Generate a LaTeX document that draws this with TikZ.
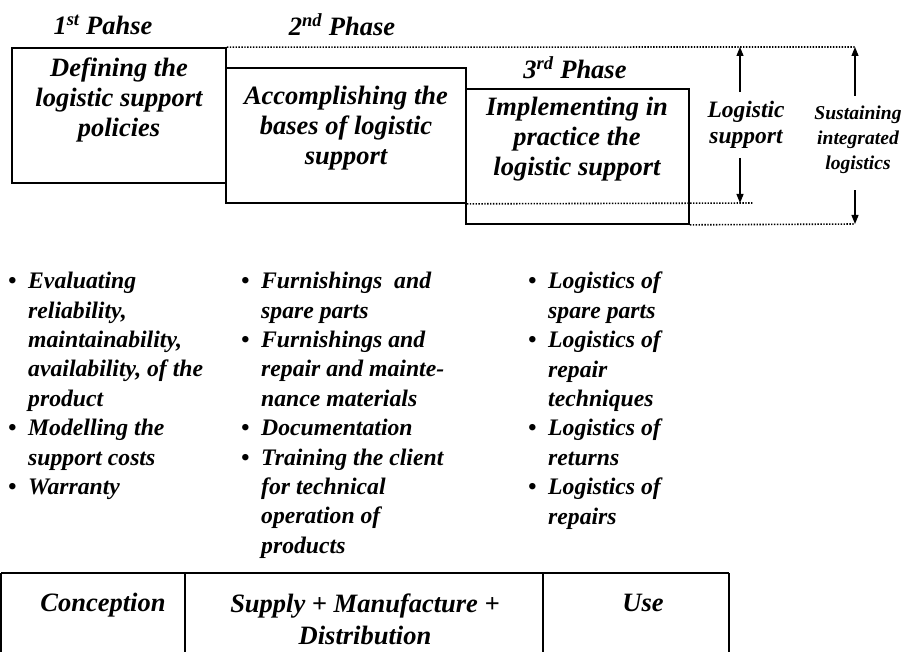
\documentclass[tikz,border=0pt]{standalone}
\usepackage{fontspec}
\setmainfont{Liberation Serif}
\usetikzlibrary{arrows.meta}
\newcommand{\bitem}{\makebox[20pt][l]{\textbullet}}
\newcommand{\bcont}{\hspace*{20pt}}
\begin{document}
\begin{tikzpicture}[x=1pt,y=-1pt,
  phasebox/.style={draw, line width=1.7pt, rectangle, inner sep=0pt},
  dotline/.style={line width=1.6pt, dash pattern=on 1.4pt off 1.5pt},
  arr/.style={line width=1.2pt, -{Triangle[length=9pt,width=7pt]}},
  tbl/.style={line width=1.4pt},
  boxtext/.style={font=\fontsize{26.5pt}{30pt}\selectfont\bfseries\itshape, align=center, inner sep=0pt},
  title/.style={font=\fontsize{26.5pt}{30pt}\selectfont\bfseries\itshape, inner sep=0pt},
  listcol/.style={font=\fontsize{23.7pt}{29.4pt}\selectfont\bfseries\itshape, align=left, inner sep=0pt, anchor=north west},
  celltext/.style={font=\fontsize{26.5pt}{32pt}\selectfont\bfseries\itshape, align=center, inner sep=0pt}
]
\useasboundingbox (0,0) rectangle (909,652);

% phase boxes
\node[phasebox, minimum width=214pt, minimum height=135pt] (b1) at (119,115.5) {};
\node[phasebox, minimum width=240pt, minimum height=135pt] (b2) at (346,135.5) {};
\node[phasebox, minimum width=223pt, minimum height=135pt] (b3) at (577.5,156.5) {};

\node[boxtext] (t1) at (119,100) {Defining the\\logistic support\\policies};
\node[boxtext] (t2) at (346,128) {Accomplishing the\\bases of logistic\\support};
\node[boxtext] (t3) at (577,139) {Implementing in\\practice the\\logistic support};

% titles
\node[title] (p1) at (103,25) {1\textsuperscript{st} Pahse};
\node[title] (p2) at (342,25) {2\textsuperscript{nd} Phase};
\node[title] (p3) at (575,68) {3\textsuperscript{rd} Phase};

% dotted lines
\coordinate (topR) at (855,47);
\coordinate (midR) at (753,203);
\coordinate (botR) at (855,224);
\draw[dotline] (b1.north east) -- (topR);
\draw[dotline] (b2.south east) -- (midR);
\draw[dotline] (b3.south east) -- (botR);

% logistic support arrows
\coordinate (lsU) at (740,47);
\coordinate (lsD) at (740,203);
\node[font=\fontsize{23.5pt}{26pt}\selectfont\bfseries\itshape, align=center, inner xsep=0pt, inner ysep=9pt] (ls) at (746,125) {Logistic\\support};
\draw[arr] (ls.north -| lsU) -- (lsU);
\draw[arr] (ls.south -| lsD) -- (lsD);

% sustaining arrows
\coordinate (ssU) at (855,47);
\coordinate (ssD) at (855,224);
\node[font=\fontsize{19.6pt}{25pt}\selectfont\bfseries\itshape, align=center, inner xsep=0pt, inner ysep=10pt] (ss) at (858,140) {Sustaining\\integrated\\logistics};
\draw[arr] (ss.north -| ssU) -- (ssU);
\draw[arr] ([yshift=-6pt]ss.south -| ssD) -- (ssD);

% lists
\node[listcol] (c1) at (8,272) {\bitem Evaluating\\
\bcont reliability,\\
\bcont maintainability,\\
\bcont availability, of the\\
\bcont product\\
\bitem Modelling the\\
\bcont support costs\\
\bitem Warranty};
\node[listcol] (c2) at (241,272) {\bitem Furnishings\ \ and\\
\bcont spare parts\\
\bitem Furnishings and\\
\bcont repair and mainte-\\
\bcont nance materials\\
\bitem Documentation\\
\bitem Training the client\\
\bcont for technical\\
\bcont operation of\\
\bcont products};
\node[listcol] (c3) at (528,272) {\bitem Logistics of\\
\bcont spare parts\\
\bitem Logistics of\\
\bcont repair\\
\bcont techniques\\
\bitem Logistics of\\
\bcont returns\\
\bitem Logistics of\\
\bcont repairs};

% bottom table
\coordinate (tA) at (1,573);
\coordinate (tB) at (185,573);
\coordinate (tC) at (543,573);
\coordinate (tD) at (729,573);
\coordinate (bA) at (1,652);
\coordinate (bB) at (185,652);
\coordinate (bC) at (543,652);
\coordinate (bD) at (729,652);
\draw[tbl] (tA) -- (tD);
\draw[tbl] (tA) -- (bA);
\draw[tbl] (tB) -- (bB);
\draw[tbl] (tC) -- (bC);
\draw[tbl] (tD) -- (bD);
\node[celltext] (k1) at (103,605) {Conception};
\node[celltext] (k2) at (365,619) {Supply + Manufacture +\\Distribution};
\node[celltext] (k3) at (643,603) {Use};
\end{tikzpicture}
\end{document}
